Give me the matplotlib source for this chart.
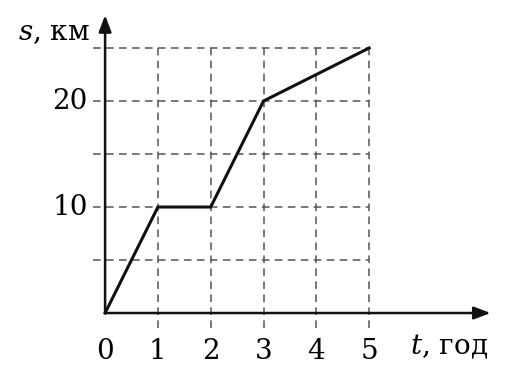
import matplotlib.pyplot as plt

plt.rcParams['font.family'] = ['DejaVu Serif']
plt.rcParams['mathtext.fontset'] = 'dejavuserif'

# data
t = [0, 1, 2, 3, 5]
s = [0, 10, 10, 20, 25]
x_ticks = [0, 1, 2, 3, 4, 5]
y_ticks = [10, 20]
x_grid = [1, 2, 3, 4, 5]
y_grid = [5, 10, 15, 20, 25]

fig = plt.figure(figsize=(5.17, 3.85), dpi=100)
ax = fig.add_axes([0, 0, 1, 1])
ax.set_xlim(-1.99, 7.80)
ax.set_ylim(-6.79, 29.53)
ax.axis('off')

grid_kw = dict(color='#555555', lw=1.1, dashes=(5, 3.5), zorder=1)
for xg in x_grid:
    ax.plot([xg, xg], [-1.4, 25], **grid_kw)
for yg in y_grid:
    ax.plot([-0.23, 5], [yg, yg], **grid_kw)

# axes with arrows
arrow_kw = dict(arrowstyle='-|>,head_length=1.0,head_width=0.38', color='#111111', lw=1.8,
                shrinkA=0, shrinkB=0)
ax.annotate('', xy=(7.3, 0), xytext=(0, 0), arrowprops=arrow_kw, zorder=3)
ax.annotate('', xy=(0, 28.1), xytext=(0, 0), arrowprops=arrow_kw, zorder=3)

ax.plot(t, s, color='#111111', lw=2.2, solid_joinstyle='miter', zorder=4)

for xt in x_ticks:
    ax.text(xt, -3.6, str(xt), ha='center', va='center', fontsize=20)
for yt in y_ticks:
    ax.text(-0.33, yt, str(yt), ha='right', va='center', fontsize=20)

ax.text(-0.28, 26.5, '$s$, км', ha='right', va='center', fontsize=20)
ax.text(5.78, -3.2, '$t$, год', ha='left', va='center', fontsize=20)

fig.savefig('out.png', dpi=100)
